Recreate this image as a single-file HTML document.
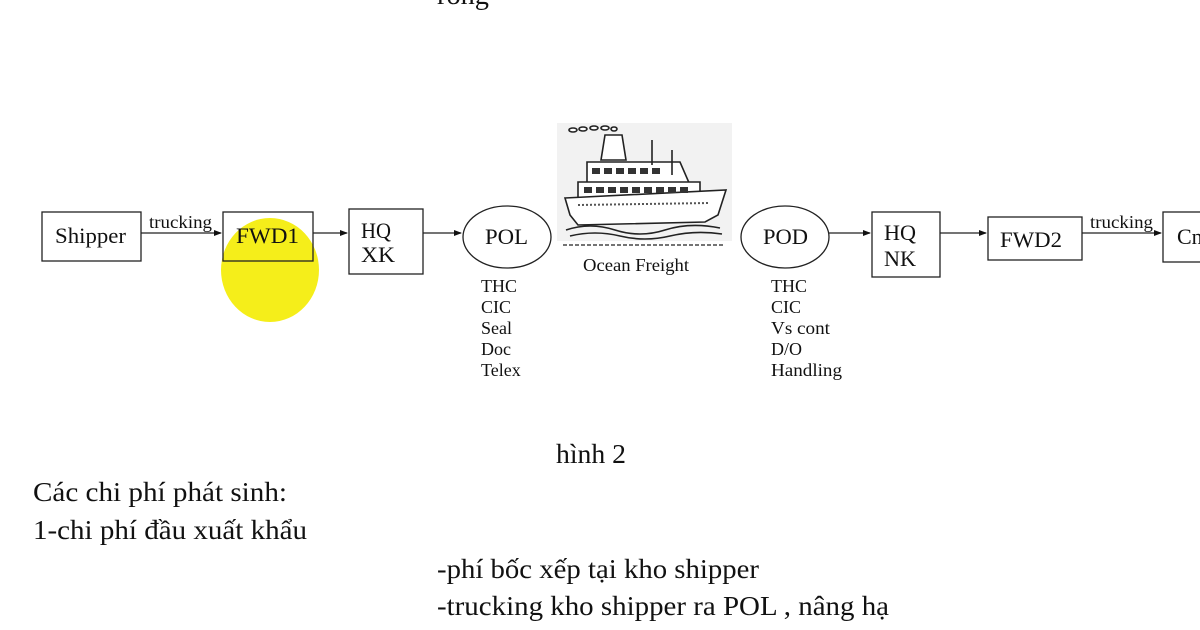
<!DOCTYPE html>
<html><head><meta charset="utf-8"><style>
html,body{margin:0;padding:0;background:#fff;}
svg{display:block;}
text{font-family:"Liberation Serif",serif;fill:#111;}
</style></head><body>
<svg width="1200" height="630" viewBox="0 0 1200 630" xmlns="http://www.w3.org/2000/svg">
<defs><marker id="a" markerWidth="8" markerHeight="8" refX="7" refY="4" orient="auto" markerUnits="userSpaceOnUse"><path d="M0,1 L8,4 L0,7 z" fill="#111"/></marker></defs>
<rect width="1200" height="630" fill="#fff"/>
<text x="437" y="4" font-size="27" textLength="52" lengthAdjust="spacingAndGlyphs">rong</text>
<ellipse cx="270" cy="270" rx="49" ry="52" fill="#f5ee1a"/>
<g stroke="#222" stroke-width="1.3" fill="none">
<rect x="42" y="212" width="99" height="49"/>
<rect x="223" y="212" width="90" height="49"/>
<rect x="349" y="209" width="74" height="65"/>
<ellipse cx="507" cy="237" rx="44" ry="31"/>
<ellipse cx="785" cy="237" rx="44" ry="31"/>
<rect x="872" y="212" width="68" height="65"/>
<rect x="988" y="217" width="94" height="43"/>
<rect x="1163" y="212" width="45" height="50"/>
<line x1="141" y1="233" x2="221" y2="233" marker-end="url(#a)"/>
<line x1="313" y1="233" x2="347" y2="233" marker-end="url(#a)"/>
<line x1="423" y1="233" x2="461" y2="233" marker-end="url(#a)"/>
<line x1="829" y1="233" x2="870" y2="233" marker-end="url(#a)"/>
<line x1="940" y1="233" x2="986" y2="233" marker-end="url(#a)"/>
<line x1="1082" y1="233" x2="1161" y2="233" marker-end="url(#a)"/>
</g>
<g font-size="22">
<text x="55" y="243" textLength="71" lengthAdjust="spacingAndGlyphs">Shipper</text>
<text x="236" y="243" textLength="63" lengthAdjust="spacingAndGlyphs">FWD1</text>
<text x="361" y="238" textLength="30" lengthAdjust="spacingAndGlyphs">HQ</text>
<text x="361" y="262" textLength="34" lengthAdjust="spacingAndGlyphs">XK</text>
<text x="485" y="244" textLength="43" lengthAdjust="spacingAndGlyphs">POL</text>
<text x="763" y="244" textLength="45" lengthAdjust="spacingAndGlyphs">POD</text>
<text x="884" y="240" textLength="32" lengthAdjust="spacingAndGlyphs">HQ</text>
<text x="884" y="266" textLength="32" lengthAdjust="spacingAndGlyphs">NK</text>
<text x="1000" y="247" textLength="62" lengthAdjust="spacingAndGlyphs">FWD2</text>
<text x="1177" y="244">Cn</text>
</g>
<text x="149" y="228" font-size="18" textLength="63" lengthAdjust="spacingAndGlyphs">trucking</text>
<text x="1090" y="228" font-size="18" textLength="63" lengthAdjust="spacingAndGlyphs">trucking</text>
<g font-size="18">
<text x="481" y="292">THC</text><text x="481" y="313">CIC</text><text x="481" y="334">Seal</text><text x="481" y="355">Doc</text><text x="481" y="376">Telex</text>
<text x="771" y="292">THC</text><text x="771" y="313">CIC</text><text x="771" y="334" textLength="59" lengthAdjust="spacingAndGlyphs">Vs cont</text><text x="771" y="355">D/O</text><text x="771" y="376" textLength="71" lengthAdjust="spacingAndGlyphs">Handling</text>
</g>
<rect x="557" y="123" width="175" height="118" fill="#f2f2f2"/>
<g stroke="#222" stroke-width="1.6" fill="#fff">
<ellipse cx="573" cy="130" rx="4" ry="2"/><ellipse cx="583" cy="129" rx="4" ry="2"/><ellipse cx="594" cy="128" rx="4" ry="2"/><ellipse cx="605" cy="128" rx="4" ry="2"/><ellipse cx="614" cy="129" rx="3" ry="2"/>
<path d="M601,160 L605,135 L622,135 L626,160 z"/>
<path d="M587,183 L587,162 L680,162 L690,185 z"/>
<path d="M578,200 L578,182 L700,182 L700,200 z"/>
<path d="M565,198 L726,190 L718,215 L705,222 L578,225 L570,215 z"/>
<line x1="652" y1="140" x2="652" y2="165"/><line x1="672" y1="150" x2="672" y2="175"/>
<path d="M566,230 Q590,222 615,230 T665,230 T720,228" fill="none"/>
<path d="M570,236 Q595,230 620,236 T670,236 T722,234" fill="none"/>
</g>
<g fill="#333">
<rect x="592" y="168" width="8" height="6"/><rect x="604" y="168" width="8" height="6"/><rect x="616" y="168" width="8" height="6"/><rect x="628" y="168" width="8" height="6"/><rect x="640" y="168" width="8" height="6"/><rect x="652" y="168" width="8" height="6"/>
<rect x="584" y="187" width="8" height="6"/><rect x="596" y="187" width="8" height="6"/><rect x="608" y="187" width="8" height="6"/><rect x="620" y="187" width="8" height="6"/><rect x="632" y="187" width="8" height="6"/><rect x="644" y="187" width="8" height="6"/><rect x="656" y="187" width="8" height="6"/><rect x="668" y="187" width="8" height="6"/><rect x="680" y="187" width="8" height="6"/>
</g>
<line x1="578" y1="205" x2="710" y2="203" stroke="#555" stroke-width="2" stroke-dasharray="2,2"/>
<line x1="563" y1="245" x2="723" y2="245" stroke="#222" stroke-width="1.3" stroke-dasharray="4,2"/>
<text x="583" y="271" font-size="18" textLength="106" lengthAdjust="spacingAndGlyphs">Ocean Freight</text>
<text x="556" y="463" font-size="27" textLength="70" lengthAdjust="spacingAndGlyphs">hình 2</text>
<g font-size="27">
<text x="33" y="501" textLength="254" lengthAdjust="spacingAndGlyphs">Các chi phí phát sinh:</text>
<text x="33" y="539" textLength="274" lengthAdjust="spacingAndGlyphs">1-chi phí đầu xuất khẩu</text>
<text x="437" y="578" textLength="322" lengthAdjust="spacingAndGlyphs">-phí bốc xếp tại kho shipper</text>
<text x="437" y="615" textLength="452" lengthAdjust="spacingAndGlyphs">-trucking kho shipper ra POL , nâng hạ</text>
</g>
</svg>
</body></html>
